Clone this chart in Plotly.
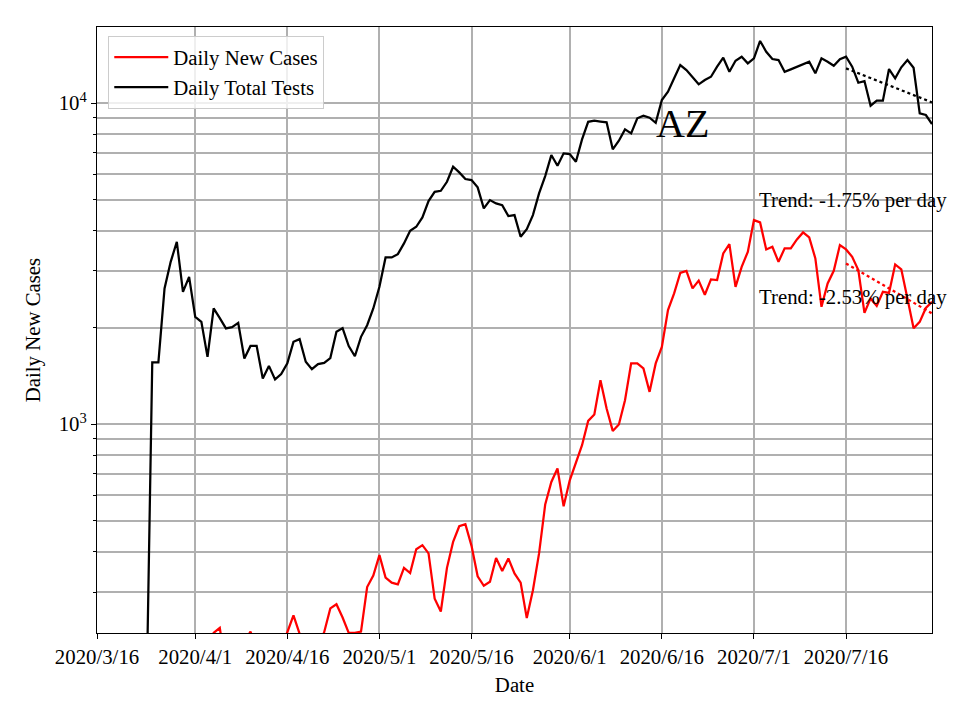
import pandas as pd
import plotly.graph_objects as go

# ---------------- data ----------------
dates = pd.date_range("2020-03-16", "2020-07-30", freq="D")

# Daily new cases, starting 2020-04-02 (earlier days not shown)
new_cases_start = "2020-04-02"
new_cases = [
    150, 170, 224, 232, 175, 190, 205, 210, 226, 200,
    185, 195, 190, 205, 225, 254, 224, 195, 200, 205,
    225, 267, 275, 250, 224, 224, 226, 311, 338, 391,
    333, 321, 317, 357, 344, 408, 420, 396, 286, 261,
    357, 430, 481, 488, 418, 336, 314, 323, 383, 349,
    382, 343, 321, 249, 304, 396, 562, 661, 728, 555,
    669, 754, 860, 1024, 1072, 1371, 1119, 953, 998, 1188,
    1546, 1546, 1491, 1261, 1546, 1741, 2265, 2554, 2960, 3003,
    2647, 2800, 2530, 2824, 2810, 3402, 3637, 2677, 3090, 3441,
    4320, 4249, 3501, 3567, 3203, 3527, 3527, 3762, 3956, 3817,
    3283, 2320, 2744, 3003, 3611, 3501, 3320, 3018, 2222, 2464,
    2336, 2583, 2564, 3144, 3034, 2464, 1990, 2083, 2300, 2404,
]

# Daily total tests, starting 2020-03-24
total_tests_start = "2020-03-24"
total_tests = [
    118, 1557, 1557, 2647, 3203, 3698, 2583, 2876, 2159, 2083,
    1621, 2293, 2138, 1987, 2005, 2068, 1602, 1753, 1753, 1388,
    1519, 1378, 1432, 1546, 1805, 1840, 1564, 1483, 1538, 1552,
    1606, 1939, 1991, 1750, 1628, 1871, 2034, 2293, 2677, 3306,
    3306, 3385, 3656, 4001, 4118, 4404, 4951, 5292, 5330, 5687,
    6332, 6083, 5798, 5756, 5462, 4699, 4987, 4870, 4811, 4446,
    4478, 3833, 4050, 4478, 5231, 5924, 6887, 6378, 6972, 6937,
    6565, 7708, 8744, 8808, 8757, 8707, 7176, 7630, 8279, 8045,
    8966, 9130, 9000, 8681, 10216, 10844, 11938, 13133, 12668, 12023,
    11438, 11794, 12074, 12977, 13840, 12517, 13547, 13940, 13293, 13781,
    15606, 14447, 13711, 13614, 12517, 12735, 12977, 13203, 13452, 12374,
    13781, 13452, 13070, 13683, 13940, 12977, 11567, 11708, 9809, 10167,
    10167, 12762, 11938, 12920, 13614, 12882, 9289, 9177, 8602,
]

# Trend lines (at their ends)
trend_dates = ["2020-07-16", "2020-07-30"]
cases_trend = [3167, 2213]
tests_trend = [12823, 10050]

tick_dates = ["2020-03-16", "2020-04-01", "2020-04-16", "2020-05-01", "2020-05-16",
              "2020-06-01", "2020-06-16", "2020-07-01", "2020-07-16"]
tick_labels = ["2020/3/16", "2020/4/1", "2020/4/16", "2020/5/1", "2020/5/16",
               "2020/6/1", "2020/6/16", "2020/7/1", "2020/7/16"]

y_major = [1000, 10000]
y_major_labels = ["10<sup>3</sup>", "10<sup>4</sup>"]
y_minor = [300, 400, 500, 600, 700, 800, 900,
           2000, 3000, 4000, 5000, 6000, 7000, 8000, 9000]

cases_trend_label = "Trend: -2.53% per day"
tests_trend_label = "Trend: -1.75% per day"
state_label = "AZ"

# ---------------- figure ----------------
cases_dates = pd.date_range(new_cases_start, periods=len(new_cases), freq="D")
tests_dates = pd.date_range(total_tests_start, periods=len(total_tests), freq="D")

FONT = "Liberation Serif, Times New Roman, serif"
FS = 20.8
GRID = "#b0b0b0"

fig = go.Figure()
fig.add_trace(go.Scatter(x=cases_dates, y=new_cases, mode="lines",
                         name="Daily New Cases",
                         line=dict(color="red", width=2.25)))
fig.add_trace(go.Scatter(x=tests_dates, y=total_tests, mode="lines",
                         name="Daily Total Tests",
                         line=dict(color="black", width=2.25)))
fig.add_trace(go.Scatter(x=trend_dates, y=cases_trend, mode="lines",
                         showlegend=False,
                         line=dict(color="red", width=2.25, dash="dot")))
fig.add_trace(go.Scatter(x=trend_dates, y=tests_trend, mode="lines",
                         showlegend=False,
                         line=dict(color="black", width=2.25, dash="dot")))

fig.update_layout(
    width=960, height=720,
    margin=dict(l=97, r=28, t=27, b=87),
    paper_bgcolor="white", plot_bgcolor="white",
    font=dict(family=FONT, size=FS, color="black"),
    showlegend=True,
    legend=dict(x=0.0135, y=0.985, xanchor="left", yanchor="top",
                itemwidth=54,
                bgcolor="rgba(255,255,255,0.8)", bordercolor="#cccccc",
                borderwidth=1, font=dict(family=FONT, size=FS)),
)

fig.update_xaxes(
    type="date",
    range=[dates[0], dates[-1]],
    tickmode="array", tickvals=tick_dates, ticktext=tick_labels,
    showgrid=True, gridcolor=GRID, gridwidth=1.5,
    showline=True, linecolor="black", linewidth=1.2, mirror=True,
    ticks="outside", ticklen=5, tickwidth=1.2, tickcolor="black",
    zeroline=False,
    title=dict(text="Date", standoff=10, font=dict(family=FONT, size=FS)),
)

fig.update_yaxes(
    type="log",
    range=[2.3498, 4.2368],
    tickmode="array", tickvals=y_major, ticktext=y_major_labels,
    showgrid=True, gridcolor=GRID, gridwidth=1.5,
    showline=True, linecolor="black", linewidth=1.2, mirror=True,
    ticks="outside", ticklen=5, tickwidth=1.2, tickcolor="black",
    minor=dict(tickmode="array", tickvals=y_minor, ticks="outside", ticklen=3,
               tickwidth=0.9, tickcolor="black",
               showgrid=True, gridcolor=GRID, gridwidth=1.5),
    zeroline=False,
    title=dict(text="Daily New Cases", standoff=12, font=dict(family=FONT, size=FS)),
)

fig.add_annotation(xref="paper", yref="paper", x=0.667, y=0.840,
                   xanchor="left", yanchor="middle", showarrow=False,
                   text=state_label, font=dict(family=FONT, size=40, color="black"))
fig.add_annotation(xref="paper", yref="paper", x=0.791, y=0.715,
                   xanchor="left", yanchor="middle", showarrow=False,
                   text=tests_trend_label, font=dict(family=FONT, size=FS, color="black"))
fig.add_annotation(xref="paper", yref="paper", x=0.791, y=0.5547,
                   xanchor="left", yanchor="middle", showarrow=False,
                   text=cases_trend_label, font=dict(family=FONT, size=FS, color="black"))

fig.write_html("out.html", config={"displayModeBar": False},
               post_script="document.body.style.margin='0';")
